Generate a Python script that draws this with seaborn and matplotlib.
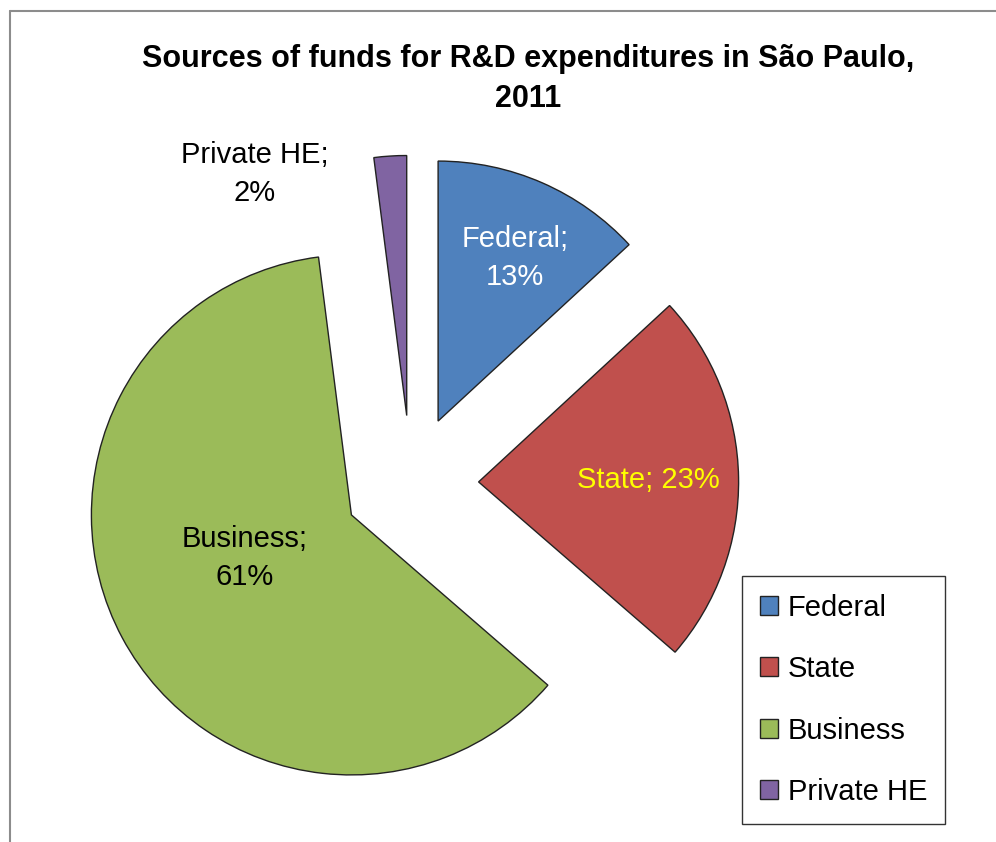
import matplotlib
matplotlib.use("Agg")
import matplotlib.pyplot as plt
from matplotlib.lines import Line2D
import seaborn as sns

# data
sources = ["Federal", "State", "Business", "Private HE"]
shares = [13, 23, 61, 2]
colors = ["#4F81BD", "#C0504D", "#9BBB59", "#8064A2"]
label_text = ["Federal;\n13%", "State; 23%", "Business;\n61%", "Private HE;\n2%"]
label_color = ["white", "#FFFF00", "black", "black"]
# label anchor spots (data units, pie radius = 1)
label_xy = [(0.40, 0.865), (0.912, 0.012), (-0.638, -0.29), (-0.60, 1.19)]

sns.set_theme(style="white")
plt.rcParams['font.family'] = ['Liberation Sans', 'DejaVu Sans']
plt.rcParams['text.color'] = 'black'

W, H = 996, 842
fig = plt.figure(figsize=(W / 100, H / 100), dpi=100)
fig.patch.set_facecolor("white")

# pie axes: radius 1 -> 260 px, centre at (411, 483) px
R = 260
L = 1.4
cx, cy = 411, 483
half = L * R
ax = fig.add_axes([(cx - half) / W, (H - cy - half) / H, 2 * half / W, 2 * half / H])

wedges, _ = ax.pie(shares, colors=colors, startangle=90, counterclock=False,
                   explode=[0.26] * 4, radius=1,
                   wedgeprops=dict(edgecolor="#222222", linewidth=1.0))
# pie() resets the limits, so fix them afterwards
ax.set_xlim(-L, L)
ax.set_ylim(-L, L)
ax.set_aspect("equal")
ax.axis("off")

for txt, col, (x, y) in zip(label_text, label_color, label_xy):
    ax.text(x, y, txt, color=col, fontsize=21, ha="center", va="center",
            linespacing=1.45)

fig.text(528 / W, 1 - 79 / H, "Sources of funds for R&D expenditures in São Paulo,\n2011",
         ha="center", va="center", fontsize=22, fontweight="bold", linespacing=1.45,
         color="black")

# chart area border (top and left visible)
fig.add_artist(Line2D([10 / W, 1], [1 - 11 / H, 1 - 11 / H], color="#8c8c8c", lw=1.5,
                      transform=fig.transFigure))
fig.add_artist(Line2D([10 / W, 10 / W], [0, 1 - 11 / H], color="#8c8c8c", lw=1.5,
                      transform=fig.transFigure))

leg = fig.legend(wedges, sources, loc="upper left",
                 bbox_to_anchor=(742 / W, 1 - 576 / H), fontsize=21,
                 frameon=True, fancybox=False, borderpad=0.6, labelspacing=1.15,
                 handlelength=0.62, handleheight=0.62, handletextpad=0.35, borderaxespad=0)
leg.get_frame().set_edgecolor("black")
leg.get_frame().set_linewidth(1.0)
for t in leg.get_texts():
    t.set_color("black")

fig.savefig("out.png", dpi=100, facecolor="white")
